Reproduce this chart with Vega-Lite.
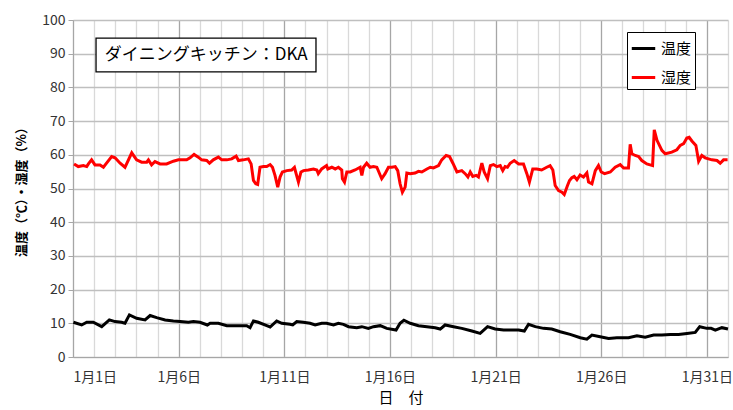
{
  "$schema": "https://vega.github.io/schema/vega-lite/v6.json",
  "width": 655,
  "height": 337,
  "autosize": {"type": "none"},
  "padding": {"left": 73, "top": 20, "right": 5, "bottom": 53},
  "background": "white",
  "config": {
    "view": {"stroke": null},
    "font": "Noto Sans CJK JP",
    "axisX": {
      "values": [0,1,2,3,4,5,6,7,8,9,10,11,12,13,14,15,16,17,18,19,20,21,22,23,24,25,26,27,28,29,30,31],
      "labelExpr": "datum.value % 5 === 0 ? '1月' + (datum.value + 1) + '日' : ''",
      "labelOverlap": false,
      "labelFontSize": 14,
      "labelColor": "#333333",
      "labelPadding": 7,
      "gridColor": {"condition": {"test": "datum.value % 5 === 0", "value": "#a6a6a6"}, "value": "#d9d9d9"},
      "gridWidth": 1.3,
      "tickColor": "#a6a6a6",
      "tickOpacity": {"condition": {"test": "datum.value % 5 === 0", "value": 1}, "value": 0},
      "tickSize": 6,
      "domainColor": "#a6a6a6",
      "titleFontSize": 15,
      "titleFontWeight": "normal",
      "titleColor": "#000000",
      "titlePadding": 6
    },
    "axisY": {
      "values": [0,10,20,30,40,50,60,70,80,90,100],
      "labelFontSize": 14,
      "labelColor": "#333333",
      "labelPadding": 3,
      "gridColor": "#bfbfbf",
      "gridWidth": 1.3,
      "tickColor": "#a6a6a6",
      "tickSize": 5,
      "domainColor": "#a6a6a6",
      "titleFontSize": 13,
      "titleFontWeight": "bold",
      "titleColor": "#000000",
      "titlePadding": 13
    }
  },
  "layer": [
    {
      "data": {
        "values": [
          {"series": "温度", "day": 0.02, "value": 10.3},
          {"series": "温度", "day": 0.41, "value": 9.5},
          {"series": "温度", "day": 0.65, "value": 10.3},
          {"series": "温度", "day": 0.96, "value": 10.3},
          {"series": "温度", "day": 1.36, "value": 9.0},
          {"series": "温度", "day": 1.72, "value": 11.0},
          {"series": "温度", "day": 1.99, "value": 10.5},
          {"series": "温度", "day": 2.3, "value": 10.3},
          {"series": "温度", "day": 2.46, "value": 10.0},
          {"series": "温度", "day": 2.67, "value": 12.5},
          {"series": "温度", "day": 3.01, "value": 11.5},
          {"series": "温度", "day": 3.41, "value": 11.0},
          {"series": "温度", "day": 3.65, "value": 12.3},
          {"series": "温度", "day": 3.96, "value": 11.7},
          {"series": "温度", "day": 4.36, "value": 11.0},
          {"series": "温度", "day": 4.75, "value": 10.7},
          {"series": "温度", "day": 5.07, "value": 10.5},
          {"series": "温度", "day": 5.46, "value": 10.3},
          {"series": "温度", "day": 5.7, "value": 10.5},
          {"series": "温度", "day": 6.01, "value": 10.3},
          {"series": "温度", "day": 6.36, "value": 9.5},
          {"series": "温度", "day": 6.49, "value": 10.0},
          {"series": "温度", "day": 6.88, "value": 10.0},
          {"series": "温度", "day": 7.28, "value": 9.3},
          {"series": "温度", "day": 7.91, "value": 9.3},
          {"series": "温度", "day": 8.22, "value": 9.3},
          {"series": "温度", "day": 8.38, "value": 8.7},
          {"series": "温度", "day": 8.54, "value": 10.7},
          {"series": "温度", "day": 8.77, "value": 10.3},
          {"series": "温度", "day": 9.17, "value": 9.3},
          {"series": "温度", "day": 9.33, "value": 8.9},
          {"series": "温度", "day": 9.64, "value": 10.7},
          {"series": "温度", "day": 9.88, "value": 10.0},
          {"series": "温度", "day": 10.27, "value": 9.7},
          {"series": "温度", "day": 10.4, "value": 9.5},
          {"series": "温度", "day": 10.59, "value": 10.5},
          {"series": "温度", "day": 10.9, "value": 10.3},
          {"series": "温度", "day": 11.22, "value": 10.0},
          {"series": "温度", "day": 11.46, "value": 9.5},
          {"series": "温度", "day": 11.77, "value": 10.0},
          {"series": "温度", "day": 12.0, "value": 10.0},
          {"series": "温度", "day": 12.33, "value": 9.5},
          {"series": "温度", "day": 12.56, "value": 10.0},
          {"series": "温度", "day": 12.8, "value": 9.7},
          {"series": "温度", "day": 13.04, "value": 9.0},
          {"series": "温度", "day": 13.43, "value": 8.7},
          {"series": "温度", "day": 13.67, "value": 9.0},
          {"series": "温度", "day": 13.98, "value": 8.5},
          {"series": "温度", "day": 14.22, "value": 9.0},
          {"series": "温度", "day": 14.54, "value": 9.3},
          {"series": "温度", "day": 14.85, "value": 8.5},
          {"series": "温度", "day": 15.29, "value": 8.0},
          {"series": "温度", "day": 15.48, "value": 10.0},
          {"series": "温度", "day": 15.66, "value": 10.9},
          {"series": "温度", "day": 15.96, "value": 10.0},
          {"series": "温度", "day": 16.35, "value": 9.3},
          {"series": "温度", "day": 16.75, "value": 9.0},
          {"series": "温度", "day": 17.14, "value": 8.7},
          {"series": "温度", "day": 17.38, "value": 8.3},
          {"series": "温度", "day": 17.61, "value": 9.5},
          {"series": "温度", "day": 18.01, "value": 9.0},
          {"series": "温度", "day": 18.4, "value": 8.5},
          {"series": "温度", "day": 18.88, "value": 7.7},
          {"series": "温度", "day": 19.27, "value": 7.0},
          {"series": "温度", "day": 19.62, "value": 9.0},
          {"series": "温度", "day": 19.98, "value": 8.3},
          {"series": "温度", "day": 20.38, "value": 8.0},
          {"series": "温度", "day": 20.69, "value": 8.0},
          {"series": "温度", "day": 21.09, "value": 8.0},
          {"series": "温度", "day": 21.36, "value": 7.7},
          {"series": "温度", "day": 21.56, "value": 9.7},
          {"series": "温度", "day": 21.88, "value": 9.0},
          {"series": "温度", "day": 22.27, "value": 8.5},
          {"series": "温度", "day": 22.66, "value": 8.3},
          {"series": "温度", "day": 23.06, "value": 7.5},
          {"series": "温度", "day": 23.53, "value": 6.7},
          {"series": "温度", "day": 24.01, "value": 5.7},
          {"series": "温度", "day": 24.32, "value": 5.3},
          {"series": "温度", "day": 24.56, "value": 6.5},
          {"series": "温度", "day": 24.95, "value": 6.0},
          {"series": "温度", "day": 25.35, "value": 5.5},
          {"series": "温度", "day": 25.74, "value": 5.7},
          {"series": "温度", "day": 26.29, "value": 5.7},
          {"series": "温度", "day": 26.69, "value": 6.3},
          {"series": "温度", "day": 27.08, "value": 5.9},
          {"series": "温度", "day": 27.48, "value": 6.5},
          {"series": "温度", "day": 27.87, "value": 6.5},
          {"series": "温度", "day": 28.27, "value": 6.7},
          {"series": "温度", "day": 28.66, "value": 6.7},
          {"series": "温度", "day": 29.06, "value": 7.0},
          {"series": "温度", "day": 29.45, "value": 7.3},
          {"series": "温度", "day": 29.66, "value": 9.0},
          {"series": "温度", "day": 30.0, "value": 8.5},
          {"series": "温度", "day": 30.2, "value": 8.5},
          {"series": "温度", "day": 30.4, "value": 8.0},
          {"series": "温度", "day": 30.71, "value": 8.7},
          {"series": "温度", "day": 31.0, "value": 8.3},
          {"series": "湿度", "day": 0.05, "value": 57.3},
          {"series": "湿度", "day": 0.25, "value": 56.5},
          {"series": "湿度", "day": 0.49, "value": 56.8},
          {"series": "湿度", "day": 0.65, "value": 56.5},
          {"series": "湿度", "day": 0.73, "value": 57.3},
          {"series": "湿度", "day": 0.88, "value": 58.5},
          {"series": "湿度", "day": 1.04, "value": 57.0},
          {"series": "湿度", "day": 1.28, "value": 57.0},
          {"series": "湿度", "day": 1.44, "value": 56.3},
          {"series": "湿度", "day": 1.56, "value": 57.3},
          {"series": "湿度", "day": 1.83, "value": 59.5},
          {"series": "湿度", "day": 1.99, "value": 59.1},
          {"series": "湿度", "day": 2.23, "value": 57.5},
          {"series": "湿度", "day": 2.46, "value": 56.3},
          {"series": "湿度", "day": 2.78, "value": 60.6},
          {"series": "湿度", "day": 3.01, "value": 58.5},
          {"series": "湿度", "day": 3.25, "value": 57.8},
          {"series": "湿度", "day": 3.49, "value": 57.8},
          {"series": "湿度", "day": 3.57, "value": 58.5},
          {"series": "湿度", "day": 3.72, "value": 57.0},
          {"series": "湿度", "day": 3.88, "value": 58.0},
          {"series": "湿度", "day": 4.12, "value": 57.3},
          {"series": "湿度", "day": 4.43, "value": 57.3},
          {"series": "湿度", "day": 4.75, "value": 58.1},
          {"series": "湿度", "day": 4.99, "value": 58.5},
          {"series": "湿度", "day": 5.38, "value": 58.5},
          {"series": "湿度", "day": 5.54, "value": 59.1},
          {"series": "湿度", "day": 5.73, "value": 60.1},
          {"series": "湿度", "day": 5.93, "value": 59.3},
          {"series": "湿度", "day": 6.09, "value": 58.5},
          {"series": "湿度", "day": 6.33, "value": 58.3},
          {"series": "湿度", "day": 6.46, "value": 57.5},
          {"series": "湿度", "day": 6.64, "value": 58.5},
          {"series": "湿度", "day": 6.88, "value": 59.3},
          {"series": "湿度", "day": 7.04, "value": 58.5},
          {"series": "湿度", "day": 7.28, "value": 58.5},
          {"series": "湿度", "day": 7.51, "value": 58.8},
          {"series": "湿度", "day": 7.72, "value": 59.6},
          {"series": "湿度", "day": 7.83, "value": 58.3},
          {"series": "湿度", "day": 8.06, "value": 58.5},
          {"series": "湿度", "day": 8.3, "value": 58.8},
          {"series": "湿度", "day": 8.43, "value": 57.3},
          {"series": "湿度", "day": 8.54, "value": 52.4},
          {"series": "湿度", "day": 8.65, "value": 51.4},
          {"series": "湿度", "day": 8.74, "value": 51.2},
          {"series": "湿度", "day": 8.85, "value": 56.3},
          {"series": "湿度", "day": 9.01, "value": 56.5},
          {"series": "湿度", "day": 9.17, "value": 56.5},
          {"series": "湿度", "day": 9.33, "value": 57.1},
          {"series": "湿度", "day": 9.44, "value": 56.3},
          {"series": "湿度", "day": 9.56, "value": 53.9},
          {"series": "湿度", "day": 9.69, "value": 50.4},
          {"series": "湿度", "day": 9.8, "value": 53.4},
          {"series": "湿度", "day": 9.91, "value": 54.9},
          {"series": "湿度", "day": 10.12, "value": 55.3},
          {"series": "湿度", "day": 10.35, "value": 55.5},
          {"series": "湿度", "day": 10.48, "value": 56.3},
          {"series": "湿度", "day": 10.56, "value": 54.4},
          {"series": "湿度", "day": 10.67, "value": 51.9},
          {"series": "湿度", "day": 10.79, "value": 54.9},
          {"series": "湿度", "day": 10.91, "value": 55.3},
          {"series": "湿度", "day": 11.14, "value": 55.5},
          {"series": "湿度", "day": 11.38, "value": 55.8},
          {"series": "湿度", "day": 11.54, "value": 55.5},
          {"series": "湿度", "day": 11.61, "value": 54.4},
          {"series": "湿度", "day": 11.77, "value": 55.8},
          {"series": "湿度", "day": 12.0, "value": 56.8},
          {"series": "湿度", "day": 12.06, "value": 55.8},
          {"series": "湿度", "day": 12.25, "value": 56.3},
          {"series": "湿度", "day": 12.41, "value": 55.8},
          {"series": "湿度", "day": 12.56, "value": 56.3},
          {"series": "湿度", "day": 12.72, "value": 55.5},
          {"series": "湿度", "day": 12.75, "value": 52.9},
          {"series": "湿度", "day": 12.85, "value": 51.9},
          {"series": "湿度", "day": 12.96, "value": 54.9},
          {"series": "湿度", "day": 13.12, "value": 54.9},
          {"series": "湿度", "day": 13.35, "value": 55.5},
          {"series": "湿度", "day": 13.59, "value": 56.3},
          {"series": "湿度", "day": 13.67, "value": 53.9},
          {"series": "湿度", "day": 13.75, "value": 56.3},
          {"series": "湿度", "day": 13.9, "value": 57.5},
          {"series": "湿度", "day": 14.06, "value": 56.3},
          {"series": "湿度", "day": 14.22, "value": 56.5},
          {"series": "湿度", "day": 14.38, "value": 56.3},
          {"series": "湿度", "day": 14.61, "value": 52.9},
          {"series": "湿度", "day": 14.77, "value": 54.4},
          {"series": "湿度", "day": 14.93, "value": 56.3},
          {"series": "湿度", "day": 15.09, "value": 56.3},
          {"series": "湿度", "day": 15.25, "value": 56.5},
          {"series": "湿度", "day": 15.37, "value": 55.3},
          {"series": "湿度", "day": 15.48, "value": 51.4},
          {"series": "湿度", "day": 15.59, "value": 48.9},
          {"series": "湿度", "day": 15.72, "value": 50.4},
          {"series": "湿度", "day": 15.8, "value": 54.6},
          {"series": "湿度", "day": 15.96, "value": 54.4},
          {"series": "湿度", "day": 16.19, "value": 54.6},
          {"series": "湿度", "day": 16.35, "value": 55.1},
          {"series": "湿度", "day": 16.51, "value": 54.9},
          {"series": "湿度", "day": 16.75, "value": 55.8},
          {"series": "湿度", "day": 16.91, "value": 56.3},
          {"series": "湿度", "day": 17.06, "value": 56.1},
          {"series": "湿度", "day": 17.3, "value": 56.8},
          {"series": "湿度", "day": 17.45, "value": 58.5},
          {"series": "湿度", "day": 17.66, "value": 59.8},
          {"series": "湿度", "day": 17.82, "value": 59.5},
          {"series": "湿度", "day": 17.98, "value": 57.5},
          {"series": "湿度", "day": 18.17, "value": 54.9},
          {"series": "湿度", "day": 18.4, "value": 55.3},
          {"series": "湿度", "day": 18.56, "value": 54.4},
          {"series": "湿度", "day": 18.69, "value": 53.4},
          {"series": "湿度", "day": 18.8, "value": 54.9},
          {"series": "湿度", "day": 18.92, "value": 53.6},
          {"series": "湿度", "day": 19.08, "value": 53.9},
          {"series": "湿度", "day": 19.19, "value": 53.4},
          {"series": "湿度", "day": 19.35, "value": 57.5},
          {"series": "湿度", "day": 19.46, "value": 54.9},
          {"series": "湿度", "day": 19.62, "value": 52.9},
          {"series": "湿度", "day": 19.75, "value": 56.8},
          {"series": "湿度", "day": 19.9, "value": 57.1},
          {"series": "湿度", "day": 20.06, "value": 56.5},
          {"series": "湿度", "day": 20.22, "value": 56.8},
          {"series": "湿度", "day": 20.34, "value": 55.3},
          {"series": "湿度", "day": 20.45, "value": 56.5},
          {"series": "湿度", "day": 20.56, "value": 56.3},
          {"series": "湿度", "day": 20.69, "value": 57.5},
          {"series": "湿度", "day": 20.88, "value": 58.3},
          {"series": "湿度", "day": 21.09, "value": 57.3},
          {"series": "湿度", "day": 21.32, "value": 57.3},
          {"series": "湿度", "day": 21.48, "value": 54.4},
          {"series": "湿度", "day": 21.6, "value": 51.9},
          {"series": "湿度", "day": 21.76, "value": 55.8},
          {"series": "湿度", "day": 21.95, "value": 55.8},
          {"series": "湿度", "day": 22.18, "value": 55.5},
          {"series": "湿度", "day": 22.42, "value": 56.3},
          {"series": "湿度", "day": 22.58, "value": 56.8},
          {"series": "湿度", "day": 22.71, "value": 55.5},
          {"series": "湿度", "day": 22.82, "value": 50.9},
          {"series": "湿度", "day": 22.98, "value": 49.4},
          {"series": "湿度", "day": 23.14, "value": 48.9},
          {"series": "湿度", "day": 23.25, "value": 48.2},
          {"series": "湿度", "day": 23.4, "value": 50.8},
          {"series": "湿度", "day": 23.5, "value": 52.4},
          {"series": "湿度", "day": 23.61, "value": 53.2},
          {"series": "湿度", "day": 23.72, "value": 53.6},
          {"series": "湿度", "day": 23.85, "value": 52.6},
          {"series": "湿度", "day": 24.0, "value": 54.0},
          {"series": "湿度", "day": 24.16, "value": 53.4},
          {"series": "湿度", "day": 24.32, "value": 54.6},
          {"series": "湿度", "day": 24.4, "value": 51.9},
          {"series": "湿度", "day": 24.56, "value": 51.4},
          {"series": "湿度", "day": 24.72, "value": 55.3},
          {"series": "湿度", "day": 24.87, "value": 56.8},
          {"series": "湿度", "day": 25.0, "value": 54.9},
          {"series": "湿度", "day": 25.16, "value": 54.4},
          {"series": "湿度", "day": 25.43, "value": 54.9},
          {"series": "湿度", "day": 25.66, "value": 56.3},
          {"series": "湿度", "day": 25.9, "value": 57.1},
          {"series": "湿度", "day": 26.06, "value": 56.1},
          {"series": "湿度", "day": 26.29, "value": 56.1},
          {"series": "湿度", "day": 26.37, "value": 63.1},
          {"series": "湿度", "day": 26.45, "value": 60.3},
          {"series": "湿度", "day": 26.61, "value": 59.8},
          {"series": "湿度", "day": 26.77, "value": 59.5},
          {"series": "湿度", "day": 26.92, "value": 58.3},
          {"series": "湿度", "day": 27.16, "value": 57.3},
          {"series": "湿度", "day": 27.43, "value": 56.8},
          {"series": "湿度", "day": 27.51, "value": 67.4},
          {"series": "湿度", "day": 27.64, "value": 64.3},
          {"series": "湿度", "day": 27.87, "value": 61.3},
          {"series": "湿度", "day": 28.03, "value": 60.3},
          {"series": "湿度", "day": 28.34, "value": 60.8},
          {"series": "湿度", "day": 28.58, "value": 61.5},
          {"series": "湿度", "day": 28.74, "value": 62.8},
          {"series": "湿度", "day": 28.9, "value": 63.3},
          {"series": "湿度", "day": 29.05, "value": 65.0},
          {"series": "湿度", "day": 29.16, "value": 65.2},
          {"series": "湿度", "day": 29.29, "value": 64.1},
          {"series": "湿度", "day": 29.48, "value": 62.8},
          {"series": "湿度", "day": 29.61, "value": 58.1},
          {"series": "湿度", "day": 29.76, "value": 59.8},
          {"series": "湿度", "day": 29.92, "value": 59.1},
          {"series": "湿度", "day": 30.24, "value": 58.5},
          {"series": "湿度", "day": 30.48, "value": 58.3},
          {"series": "湿度", "day": 30.63, "value": 57.5},
          {"series": "湿度", "day": 30.79, "value": 58.5},
          {"series": "湿度", "day": 30.98, "value": 58.5}
        ]
      },
      "mark": {"type": "line", "strokeWidth": 3},
      "encoding": {
        "x": {
          "field": "day",
          "type": "quantitative",
          "scale": {"domain": [0, 31], "nice": false, "zero": false},
          "axis": {
            "title": "日　付",
            "values": [0,1,2,3,4,5,6,7,8,9,10,11,12,13,14,15,16,17,18,19,20,21,22,23,24,25,26,27,28,29,30,31]
          }
        },
        "y": {
          "field": "value",
          "type": "quantitative",
          "scale": {"domain": [0, 100], "nice": false},
          "axis": {
            "title": "温度（℃）・湿度（%）",
            "values": [0,10,20,30,40,50,60,70,80,90,100]
          }
        },
        "color": {
          "field": "series",
          "type": "nominal",
          "scale": {"domain": ["温度", "湿度"], "range": ["#000000", "#ff0000"]},
          "legend": {
            "orient": "none",
            "legendX": 554,
            "legendY": 12,
            "title": null,
            "strokeColor": "#000000",
            "fillColor": "#ffffff",
            "padding": 3,
            "symbolType": "stroke",
            "symbolSize": 550,
            "symbolStrokeWidth": 3,
            "labelFontSize": 15,
            "labelColor": "#000000",
            "rowPadding": 7
          }
        }
      }
    },
    {
      "data": {"values": [{"label": "ダイニングキッチン：DKA"}]},
      "mark": {"type": "rect", "fill": "#ffffff", "stroke": "#000000", "strokeWidth": 1.3},
      "encoding": {
        "x": {"datum": 1.09, "type": "quantitative", "axis": {"title": "日　付", "values": [0,1,2,3,4,5,6,7,8,9,10,11,12,13,14,15,16,17,18,19,20,21,22,23,24,25,26,27,28,29,30,31]}},
        "x2": {"datum": 11.5},
        "y": {"datum": 94.6, "type": "quantitative", "axis": {"title": "温度（℃）・湿度（%）", "values": [0,10,20,30,40,50,60,70,80,90,100]}},
        "y2": {"datum": 84.6}
      }
    },
    {
      "data": {"values": [{"label": "ダイニングキッチン：DKA"}]},
      "mark": {"type": "text", "fontSize": 17, "font": "Noto Sans CJK JP", "color": "#000000"},
      "encoding": {
        "x": {"datum": 6.3, "type": "quantitative", "axis": {"title": "日　付", "values": [0,1,2,3,4,5,6,7,8,9,10,11,12,13,14,15,16,17,18,19,20,21,22,23,24,25,26,27,28,29,30,31]}},
        "y": {"datum": 89.6, "type": "quantitative", "axis": {"title": "温度（℃）・湿度（%）", "values": [0,10,20,30,40,50,60,70,80,90,100]}},
        "text": {"field": "label"}
      }
    }
  ]
}
